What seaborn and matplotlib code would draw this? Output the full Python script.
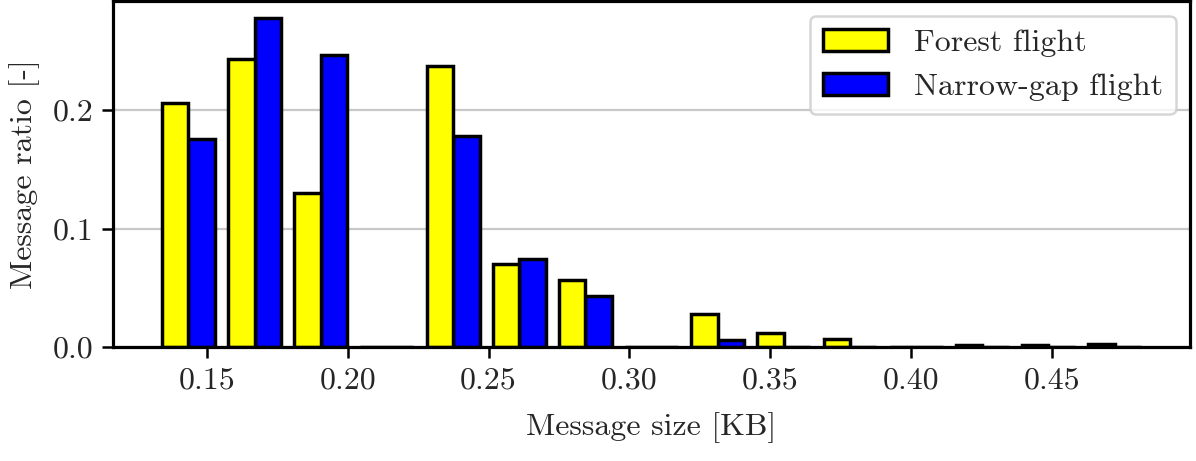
import numpy as np
import pandas as pd
import matplotlib.pyplot as plt
from matplotlib.patches import Patch
from matplotlib.ticker import FormatStrFormatter
import seaborn as sns

# histogram bins (message size in KB)
bin_lo = 0.1317
bin_hi = 0.4840
n_bins = 15

# ratio of messages per bin
forest = [0.2056, 0.2426, 0.1303, 0.0, 0.2370, 0.0703, 0.0569, 0.0,
          0.0283, 0.0120, 0.0067, 0.0, 0.0020, 0.0015, 0.0025]
narrow = [0.1754, 0.2776, 0.2462, 0.0, 0.1780, 0.0745, 0.0429, 0.0,
          0.0059, 0.0, 0.0, 0.0, 0.0, 0.0, 0.0]
labels = ['Forest flight', 'Narrow-gap flight']
colors = ['#ffff00', '#0000ff']
xticks = [0.15, 0.20, 0.25, 0.30, 0.35, 0.40, 0.45]
yticks = [0.0, 0.1, 0.2]

sns.set_style('white')
plt.rcParams['font.family'] = 'serif'
plt.rcParams['font.serif'] = ['cmr10', 'DejaVu Serif']
plt.rcParams['mathtext.fontset'] = 'cm'
plt.rcParams['axes.formatter.use_mathtext'] = True
plt.rcParams['font.size'] = 23

bins = np.linspace(bin_lo, bin_hi, n_bins + 1)
centers = (bins[:-1] + bins[1:]) / 2
df = pd.DataFrame({
    'size': np.concatenate([centers, centers]),
    'ratio': forest + narrow,
    'flight': [labels[0]] * n_bins + [labels[1]] * n_bins,
})

fig = plt.figure(figsize=(11.96, 4.61), dpi=100)
ax = fig.add_axes([0.0945, 0.247, 0.9005, 0.75])
sns.histplot(data=df, x='size', weights='ratio', hue='flight',
             hue_order=labels, palette=dict(zip(labels, colors)),
             bins=list(bins), multiple='dodge', shrink=0.8, alpha=1,
             edgecolor='black', linewidth=2.5, legend=False, ax=ax)

ax.set_axisbelow(True)
ax.yaxis.grid(True, color='#c8c8c8', linewidth=1.6)
ax.xaxis.grid(False)
for s in ax.spines.values():
    s.set_color('black')
    s.set_linewidth(2.3)
ax.tick_params(axis='both', which='major', direction='out', length=8,
               width=1.8, color='black', labelsize=23, pad=6,
               bottom=True, left=True)
ax.set_xticks(xticks)
ax.set_yticks(yticks)
ax.xaxis.set_major_formatter(FormatStrFormatter('%.2f'))
ax.yaxis.set_major_formatter(FormatStrFormatter('%.1f'))
ax.set_xlabel('Message size [KB]', fontsize=23, labelpad=13)
ax.set_ylabel('Message ratio [-]', fontsize=23, labelpad=9)

handles = [Patch(facecolor=c, edgecolor='black', linewidth=2.5, label=l)
           for c, l in zip(colors, labels)]
leg = ax.legend(handles=handles, loc='upper right', fontsize=23,
                frameon=True, fancybox=True, framealpha=0.8,
                edgecolor='#cccccc', handlelength=2.05, handleheight=0.7,
                handletextpad=0.8, borderpad=0.4, labelspacing=0.5,
                borderaxespad=0.45)
leg.get_frame().set_linewidth(1.8)

fig.savefig('out.png', dpi=100)
